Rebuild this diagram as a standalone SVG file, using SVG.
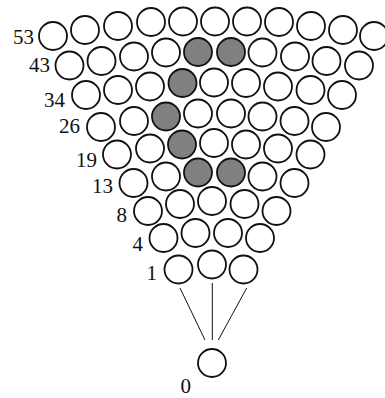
<svg xmlns="http://www.w3.org/2000/svg" width="385" height="398" viewBox="0 0 385 398">
<style>
  circle { fill: #ffffff; stroke: #111111; stroke-width: 1.8; }
  circle.g { fill: #808080; }
  line { stroke: #111111; stroke-width: 1; }
  text { font-family: "Liberation Serif", "Times New Roman", serif; font-size: 21px; fill: #111111; text-anchor: end; }
</style>
<rect width="385" height="398" fill="#ffffff"/>
<g id="connectors">
  <line x1="180" y1="288" x2="205" y2="340"/>
  <line x1="212.3" y1="283" x2="212.3" y2="340"/>
  <line x1="246.7" y1="288" x2="218.3" y2="340"/>
</g>
<g id="row53">
  <g id="n53-1"><circle cx="53" cy="36" r="14"/></g>
  <g id="n53-2"><circle cx="85" cy="30" r="14"/></g>
  <g id="n53-3"><circle cx="118" cy="26" r="14"/></g>
  <g id="n53-4"><circle cx="151" cy="22" r="14"/></g>
  <g id="n53-5"><circle cx="183" cy="21.5" r="14"/></g>
  <g id="n53-6"><circle cx="215" cy="21.5" r="14"/></g>
  <g id="n53-7"><circle cx="247" cy="21.5" r="14"/></g>
  <g id="n53-8"><circle cx="279" cy="22" r="14"/></g>
  <g id="n53-9"><circle cx="311" cy="26" r="14"/></g>
  <g id="n53-10"><circle cx="343" cy="30" r="14"/></g>
  <g id="n53-11"><circle cx="374" cy="36" r="14"/></g>
</g>
<g id="row43">
  <g id="n43-1"><circle cx="69.5" cy="65.5" r="14"/></g>
  <g id="n43-2"><circle cx="101.5" cy="61" r="14"/></g>
  <g id="n43-3"><circle cx="134" cy="56.5" r="14"/></g>
  <g id="n43-4"><circle cx="166" cy="52.5" r="14"/></g>
  <g id="n43-5"><circle class="g" cx="198" cy="52" r="14"/></g>
  <g id="n43-6"><circle class="g" cx="231" cy="52" r="14"/></g>
  <g id="n43-7"><circle cx="262.5" cy="52.5" r="14"/></g>
  <g id="n43-8"><circle cx="295" cy="56.5" r="14"/></g>
  <g id="n43-9"><circle cx="326.5" cy="61" r="14"/></g>
  <g id="n43-10"><circle cx="359" cy="65.5" r="14"/></g>
</g>
<g id="row34">
  <g id="n34-1"><circle cx="86" cy="95" r="14"/></g>
  <g id="n34-2"><circle cx="118" cy="90" r="14"/></g>
  <g id="n34-3"><circle cx="150" cy="86.5" r="14"/></g>
  <g id="n34-4"><circle class="g" cx="182.5" cy="83" r="14"/></g>
  <g id="n34-5"><circle cx="214" cy="82.5" r="14"/></g>
  <g id="n34-6"><circle cx="246" cy="83" r="14"/></g>
  <g id="n34-7"><circle cx="278" cy="86.5" r="14"/></g>
  <g id="n34-8"><circle cx="310.5" cy="90" r="14"/></g>
  <g id="n34-9"><circle cx="342" cy="95" r="14"/></g>
</g>
<g id="row26">
  <g id="n26-1"><circle cx="101" cy="127" r="14"/></g>
  <g id="n26-2"><circle cx="134" cy="121" r="14"/></g>
  <g id="n26-3"><circle class="g" cx="166" cy="116.5" r="14"/></g>
  <g id="n26-4"><circle cx="198" cy="113.5" r="14"/></g>
  <g id="n26-5"><circle cx="231" cy="113.5" r="14"/></g>
  <g id="n26-6"><circle cx="262.5" cy="116.5" r="14"/></g>
  <g id="n26-7"><circle cx="294.5" cy="121" r="14"/></g>
  <g id="n26-8"><circle cx="326" cy="127" r="14"/></g>
</g>
<g id="row19">
  <g id="n19-1"><circle cx="117" cy="154.5" r="14"/></g>
  <g id="n19-2"><circle cx="150" cy="148.5" r="14"/></g>
  <g id="n19-3"><circle class="g" cx="182" cy="144.5" r="14"/></g>
  <g id="n19-4"><circle cx="214" cy="143" r="14"/></g>
  <g id="n19-5"><circle cx="246" cy="144.5" r="14"/></g>
  <g id="n19-6"><circle cx="278" cy="148.5" r="14"/></g>
  <g id="n19-7"><circle cx="310.5" cy="154.5" r="14"/></g>
</g>
<g id="row13">
  <g id="n13-1"><circle cx="133.5" cy="183" r="14"/></g>
  <g id="n13-2"><circle cx="166" cy="176.5" r="14"/></g>
  <g id="n13-3"><circle class="g" cx="198" cy="172.5" r="14"/></g>
  <g id="n13-4"><circle class="g" cx="231" cy="172.5" r="14"/></g>
  <g id="n13-5"><circle cx="262.5" cy="176.5" r="14"/></g>
  <g id="n13-6"><circle cx="294.5" cy="183" r="14"/></g>
</g>
<g id="row8">
  <g id="n8-1"><circle cx="148" cy="211" r="14"/></g>
  <g id="n8-2"><circle cx="180" cy="204" r="14"/></g>
  <g id="n8-3"><circle cx="212" cy="201" r="14"/></g>
  <g id="n8-4"><circle cx="244.5" cy="204" r="14"/></g>
  <g id="n8-5"><circle cx="276.5" cy="211" r="14"/></g>
</g>
<g id="row4">
  <g id="n4-1"><circle cx="163.5" cy="238" r="14"/></g>
  <g id="n4-2"><circle cx="195.5" cy="233" r="14"/></g>
  <g id="n4-3"><circle cx="228" cy="233" r="14"/></g>
  <g id="n4-4"><circle cx="260" cy="238" r="14"/></g>
</g>
<g id="row1">
  <g id="n1-1"><circle cx="178.5" cy="269.5" r="14"/></g>
  <g id="n1-2"><circle cx="212" cy="264.5" r="14"/></g>
  <g id="n1-3"><circle cx="243.5" cy="269.5" r="14"/></g>
</g>
<g id="n0"><circle cx="212" cy="363" r="14"/></g>
<g id="labels">
  <text x="34" y="44">53</text>
  <text x="50" y="72">43</text>
  <text x="65" y="107">34</text>
  <text x="80" y="133">26</text>
  <text x="97" y="167">19</text>
  <text x="113" y="193">13</text>
  <text x="127" y="222">8</text>
  <text x="143" y="251">4</text>
  <text x="157" y="280">1</text>
  <text x="191" y="393">0</text>
</g>
</svg>
